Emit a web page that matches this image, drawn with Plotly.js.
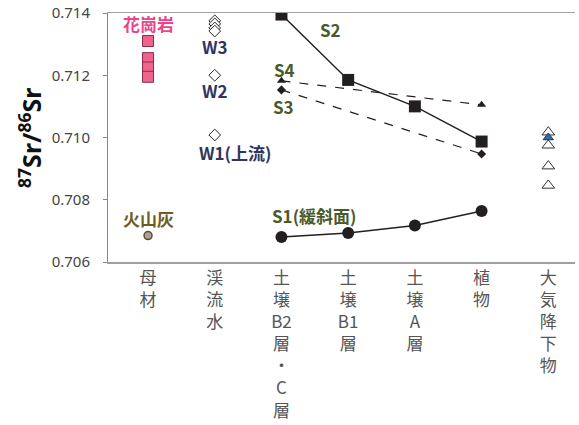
<!DOCTYPE html>
<html>
<head>
<meta charset="utf-8">
<script src="https://cdn.plot.ly/plotly-3.0.1.min.js"></script>
<style>html,body{margin:0;padding:0;background:#fff;}#chart{width:579px;height:425px;}</style>
</head>
<body>
<div id="chart"></div>
<script>
// Categories (x positions 0..6)
const categories = ['母材', '渓流水', '土壌B2層・C層', '土壌B1層', '土壌A層', '植物', '大気降下物'];
const tickLabels = ['母<br>材', '渓<br>流<br>水', '土<br>壌<br>B2<br>層<br>・<br>C<br>層', '土<br>壌<br>B1<br>層', '土<br>壌<br>A<br>層', '植<br>物', '大<br>気<br>降<br>下<br>物'];
const tickVals = [0, 1, 2, 3, 4, 5, 6];

// Parent material
const graniteX = [0, 0, 0, 0];
const graniteY = [0.7131, 0.71255, 0.71225, 0.71195];
const ashX = [0];
const ashY = [0.70685];

// Stream water
const streamX = [1, 1, 1, 1, 1, 1];
const streamY = [0.71375, 0.71365, 0.71352, 0.71342, 0.71200, 0.71008];

// Soil / plant profiles
const profileX = [2, 3, 4, 5];
const s2Y = [0.71395, 0.71185, 0.71100, 0.70987];
const s1Y = [0.70680, 0.70693, 0.70717, 0.70764];
const s34X = [2, 5];
const s4Y = [0.71182, 0.71105];
const s3Y = [0.71153, 0.70947];

// Atmospheric deposition
const atmX = [6, 6, 6, 6];
const atmY = [0.71017, 0.70975, 0.70908, 0.70846];
const atmBlueX = [6];
const atmBlueY = [0.71000];

const traces = [
  {x: graniteX, y: graniteY, mode: 'markers', type: 'scatter',
   marker: {symbol: 'square', size: 11, color: '#f0648c', line: {color: '#8c2c4c', width: 1}}},
  {x: ashX, y: ashY, mode: 'markers', type: 'scatter',
   marker: {symbol: 'circle', size: 8, color: '#a8a29a', line: {color: '#5c4c30', width: 1.5}}},
  {x: streamX, y: streamY, mode: 'markers', type: 'scatter',
   marker: {symbol: 'diamond', size: 9, color: '#ffffff', line: {color: '#222222', width: 1}}},
  {x: profileX, y: s2Y, mode: 'lines+markers', type: 'scatter',
   line: {color: '#231f20', width: 1.5},
   marker: {symbol: 'square', size: 12, color: '#231f20'}},
  {x: s34X, y: s4Y, mode: 'lines+markers', type: 'scatter',
   line: {color: '#231f20', width: 1.2, dash: 'dash'},
   marker: {symbol: 'triangle-up', size: 8, color: '#231f20'}},
  {x: s34X, y: s3Y, mode: 'lines+markers', type: 'scatter',
   line: {color: '#231f20', width: 1.2, dash: 'dash'},
   marker: {symbol: 'diamond', size: 7, color: '#231f20'}},
  {x: profileX, y: s1Y, mode: 'lines+markers', type: 'scatter',
   line: {color: '#231f20', width: 1.5},
   marker: {symbol: 'circle', size: 12, color: '#231f20'}},
  {x: atmX, y: atmY, mode: 'markers', type: 'scatter',
   marker: {symbol: 'triangle-up', size: 11, color: '#ffffff', line: {color: '#333333', width: 1}}},
  {x: atmBlueX, y: atmBlueY, mode: 'markers', type: 'scatter',
   marker: {symbol: 'triangle-up', size: 9, color: '#2e6cb8', line: {color: '#333333', width: 1}}}
];

const lab = (x, y, text, color, extra) => Object.assign({
  x: x, y: y, xref: 'x', yref: 'y', text: text, showarrow: false,
  font: {family: 'Noto Sans CJK JP, sans-serif', size: 17, color: color}
}, extra || {});

const annotations = [
  lab(0, 0.71365, '<b>花崗岩</b>', '#e8458a'),
  lab(1, 0.71291, '<b>W3</b>', '#2f3560'),
  lab(1, 0.71152, '<b>W2</b>', '#2f3560'),
  lab(0.74, 0.70953, '<b>W1(上流)</b>', '#2f3560', {xanchor: 'left'}),
  lab(2.73, 0.71346, '<b>S2</b>', '#4a5a2a'),
  lab(2.05, 0.71220, '<b>S4</b>', '#4a5a2a'),
  lab(2.03, 0.71101, '<b>S3</b>', '#4a5a2a'),
  lab(1.83, 0.70750, '<b>S1(緩斜面)</b>', '#4a5a2a', {xanchor: 'left'}),
  lab(0, 0.70741, '<b>火山灰</b>', '#6e5c22'),
  {x: -0.21, y: 0.50, xref: 'paper', yref: 'paper', showarrow: false, textangle: -90,
   text: '<b><sup>87</sup>Sr/<sup>86</sup>Sr</b>',
   font: {family: 'Noto Sans, sans-serif', size: 25, color: '#111111'}}
];

const layout = {
  width: 579, height: 425,
  margin: {l: 108, r: 4, t: 13, b: 163},
  paper_bgcolor: '#ffffff', plot_bgcolor: '#ffffff',
  showlegend: false,
  xaxis: {
    range: [-0.6, 6.4], tickvals: tickVals, ticktext: tickLabels,
    showgrid: false, zeroline: false, showline: true, mirror: true,
    linecolor: '#a0a0a0', linewidth: 1.5, ticks: '',
    tickfont: {family: 'Noto Sans CJK JP, sans-serif', size: 17, color: '#555555'},
    fixedrange: true
  },
  yaxis: {
    range: [0.706, 0.714], tickvals: [0.706, 0.708, 0.710, 0.712, 0.714],
    ticktext: ['0.706', '0.708', '0.710', '0.712', '0.714'],
    showgrid: false, zeroline: false, showline: true, linecolor: '#888888', linewidth: 1,
    ticks: 'outside', ticklen: 4, tickcolor: '#888888', ticklabelstandoff: 10,
    tickfont: {family: 'Noto Sans, sans-serif', size: 15, color: '#444444'},
    fixedrange: true
  },
  annotations: annotations
};

Plotly.newPlot('chart', traces, layout, {displayModeBar: false, staticPlot: true});
</script>
</body>
</html>
